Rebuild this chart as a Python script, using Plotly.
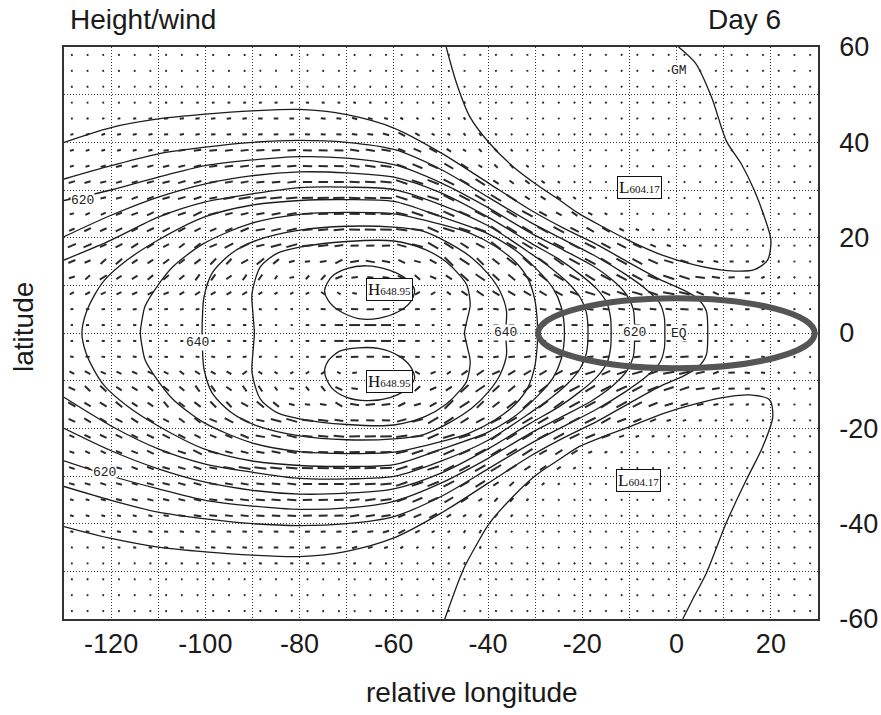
import numpy as np
import plotly.graph_objects as go

# ---------------- data ----------------
# contour paths (relative longitude, latitude); contour interval 4
C608N_LON = [-48.9, -46.7, -43.9, -39.7, -34.7, -29.5, -25, -20.8, -15.5, -10.3, -3.2, 3.8, 10.8, 16.5, 19.3, 20, 18.6, 16.5, 13.7, 10.6, 7.4, 4, 0.4]
C608N_LAT = [60, 52.4, 45.4, 39.8, 34.9, 31, 28, 25.1, 22.2, 19.5, 16.4, 14.3, 13.1, 13.3, 15.3, 19.5, 24.4, 29.9, 35.5, 40.2, 49.5, 56.6, 60]
C608S_LON = [-49.2, -45.3, -42.5, -39.7, -34.7, -29.8, -25, -20.6, -15.5, -10, -3.2, 4.2, 10.8, 15.5, 19.7, 20.4, 18.3, 14.8, 10.5, 6.3, 3.6, 1.3]
C608S_LAT = [-60, -49.7, -44.5, -39.9, -34.3, -29.8, -26.6, -23.8, -21.7, -19.7, -17, -14.8, -13.4, -13, -14, -17.6, -23.8, -30.8, -39.9, -50.4, -55.5, -60]

C612_LON = [-130, -120, -110, -100, -90, -80, -70, -60, -50, -40, -31, -24, -17, -10, -3.5, 1.5, 4.5, 6.3, 6.6, 6.3, 4.5, 1.5, -3.5, -10, -17, -24, -31, -40, -50, -60, -70, -80, -90, -100, -110, -120, -130]
C612_LAT = [40.0, 43.1, 44.9, 45.9, 46.6, 46.9, 45.8, 43.0, 37.8, 31.5, 25.8, 22.0, 18.6, 14.7, 11.2, 9.0, 7.2, 4.6, 0.0, -4.6, -7.2, -9.0, -11.2, -14.7, -18.6, -22.0, -25.8, -31.5, -37.8, -43.0, -45.8, -46.9, -46.6, -45.9, -44.9, -43.1, -40.6]

C616_LON = [-130, -120, -110, -100, -90, -80, -70, -60, -50, -40, -31, -24, -17, -11, -6.5, -3.6, -2.6, -2.5, -2.6, -3.6, -6.5, -11, -17, -24, -31, -40, -50, -60, -70, -80, -90, -100, -110, -120, -130]
C616_LAT = [32.3, 35.1, 37.6, 39.0, 40.0, 40.4, 40.0, 38.5, 34.3, 28.5, 23.2, 19.6, 16.0, 12.4, 9.2, 6.3, 3.2, 0.0, -3.2, -6.3, -9.2, -12.4, -16.0, -19.6, -23.2, -28.5, -34.3, -38.5, -40.0, -40.4, -40.0, -39.0, -37.6, -35.1, -32.2]

C620_LON = [-130, -120, -110, -100, -90, -80, -70, -60, -50, -40, -31, -24, -18, -13.5, -10.6, -9.2, -8.9, -9.2, -10.6, -13.5, -18, -24, -31, -40, -50, -60, -70, -80, -90, -100, -110, -120, -130]
C620_LAT = [27.8, 30.0, 32.7, 35.1, 36.3, 37.0, 36.7, 35.3, 31.5, 26.3, 21.0, 17.4, 14.2, 11.0, 8.0, 5.0, 0.0, -5.0, -8.0, -11.0, -14.2, -17.4, -21.0, -26.3, -31.5, -35.3, -36.7, -37.0, -36.3, -35.1, -32.7, -30.0, -26.8]

C624_LON = [-130, -120, -110, -100, -90, -80, -70, -60, -50, -40, -31, -25, -20.5, -17, -14.8, -14, -13.9, -14, -14.8, -17, -20.5, -25, -31, -40, -50, -60, -70, -80, -90, -100, -110, -120, -130]
C624_LAT = [20.2, 24.7, 28.5, 31.3, 33.0, 33.8, 33.6, 32.7, 29.4, 24.3, 18.9, 15.5, 12.3, 9.3, 6.3, 3.0, 0.0, -3.0, -6.3, -9.3, -12.3, -15.5, -18.9, -24.3, -29.4, -32.7, -33.6, -33.8, -33.0, -31.3, -28.5, -24.7, -20.0]

C628_LON = [-130, -120, -110, -100, -90, -80, -70, -60, -50, -40, -31, -26.5, -23, -20.5, -19.2, -18.8, -19.2, -20.5, -23, -26.5, -31, -40, -50, -60, -70, -80, -90, -100, -110, -120, -130]
C628_LAT = [15.3, 19.5, 24.3, 27.5, 29.2, 30.5, 30.6, 30.1, 26.9, 22.5, 16.7, 13.5, 10.5, 7.5, 4.5, 0.0, -4.5, -7.5, -10.5, -13.5, -16.7, -22.5, -26.9, -30.1, -30.6, -30.5, -29.2, -27.5, -24.3, -19.5, -13.5]

C632_LON = [-126.2, -125.4, -123.5, -121.4, -116.6, -110, -100.3, -90.3, -80, -70, -60, -50, -40, -34, -29.5, -26.3, -24.5, -23.8, -24.5, -26.3, -29.5, -34, -40, -50, -60, -70, -80, -90.3, -100.3, -110, -116.6, -121.4, -123.5, -125.4, -126.2]
C632_LAT = [0, 4, 8, 11.1, 15.3, 19.5, 24.3, 26.8, 27.8, 28.0, 27.6, 24.4, 20.8, 17.2, 13.2, 9.5, 5.5, 0, -5.5, -9.5, -13.2, -17.2, -20.8, -24.4, -27.6, -28.0, -27.8, -26.8, -24.3, -19.5, -15.3, -11.1, -8, -4, 0]

C636_LON = [-113.8, -113.4, -112.8, -110.3, -106.9, -100.3, -90.3, -80, -70, -60, -50, -44, -38.5, -34.3, -31.5, -30.1, -29.6, -29.5, -29.6, -30.1, -31.5, -34.3, -38.5, -44, -50, -60, -70, -80, -90.3, -100.3, -106.9, -110.3, -112.8, -113.4, -113.8]
C636_LAT = [0, 3, 5.6, 9.7, 13.9, 18.8, 23, 24.9, 25.3, 25, 22.8, 21, 18.2, 15, 11.3, 7, 3, 0, -3, -7, -11.3, -15, -18.2, -21, -22.8, -25, -25.3, -24.9, -23, -18.8, -13.9, -9.7, -5.6, -3, 0]

C640_LON = [-100.7, -100.6, -100.3, -98.6, -94.5, -89, -80, -70, -60, -54, -48.4, -43.5, -39.9, -37.5, -36.1, -36.3, -36.1, -37.5, -39.9, -43.5, -48.4, -54, -60, -70, -80, -89, -94.5, -98.6, -100.3, -100.6, -100.7]
C640_LAT = [0, 4, 7.5, 12.5, 16.7, 19.5, 21.6, 22.4, 22.2, 21.4, 18.9, 15.8, 12.3, 8.8, 4.6, 0, -4.6, -8.8, -12.3, -15.8, -18.9, -21.4, -22.2, -22.4, -21.6, -19.5, -16.7, -12.5, -7.5, -4, 0]

C644_LON = [-89.6, -89.9, -90.1, -88.3, -84.8, -80, -70, -60, -53.3, -49, -45.9, -44.5, -43.8, -44.4, -45, -44.4, -43.8, -44.5, -45.9, -49, -53.3, -60, -70, -80, -84.8, -88.3, -90.1, -89.9, -89.6]
C644_LAT = [0, 4, 8.3, 13.9, 16.7, 18, 19.2, 19.3, 17.5, 15, 12, 10, 6, 3, 0, -3, -6, -10, -12, -15, -17.5, -19.3, -19.2, -18, -16.7, -13.9, -8.3, -4, 0]

C648N_LON = [-74.7, -73.2, -70, -65.8, -61, -57.3, -55.6, -56.5, -59, -63, -67.5, -71.5, -73.9, -74.7]
C648N_LAT = [9, 11.8, 13.5, 14.1, 13.2, 11.3, 9, 6.5, 4.5, 3.1, 3, 4.6, 6.8, 9]
C648S_LON = [-74.7, -73.9, -71.5, -67.5, -63, -59, -56.5, -55.6, -57.3, -61, -65.8, -70, -73.2, -74.7]
C648S_LAT = [-8.3, -5.8, -3.8, -3.1, -3.3, -4.8, -7, -9.5, -11.8, -13.6, -14.2, -13.5, -11.5, -8.3]

# contour labels
LABEL_LON = [-126.0, -121.4, -101.6, -36.3, -8.9]
LABEL_LAT = [27.8, -29.2, -1.9, 0.2, 0.2]
LABEL_TEXT = ["620", "620", "640", "640", "620"]

# extrema boxes
EXT_LON = [-60.9, -60.9, -7.9, -8.1]
EXT_LAT = [9.2, -10.1, 30.6, -31.0]
EXT_KIND = ["H", "H", "L", "L"]
EXT_VALUE = ["648.95", "648.95", "604.17", "604.17"]

# reference marks
MARK_LON = [0.4, 0.4]
MARK_LAT = [0.0, 55.0]
MARK_TEXT = ["EQ", "GM"]

X_TICKS = [-120, -100, -80, -60, -40, -20, 0, 20]
X_TICK_TEXT = ["-120", "-100", "-80", "-60", "-40", "-20", "0", "20"]
Y_TICKS = [-60, -40, -20, 0, 20, 40, 60]
Y_TICK_TEXT = ["-60", "-40", "-20", "0", "20", "40", "60"]
X_GRID = [-120, -110, -100, -90, -80, -70, -60, -50, -40, -30, -20, -10, 0, 10, 20]
Y_GRID = [-50, -40, -30, -20, -10, 0, 10, 20, 30, 40, 50]

PATHS = [
    (C608N_LON, C608N_LAT), (C608S_LON, C608S_LAT),
    (C612_LON, C612_LAT), (C616_LON, C616_LAT), (C620_LON, C620_LAT),
    (C624_LON, C624_LAT), (C628_LON, C628_LAT), (C632_LON, C632_LAT),
    (C636_LON, C636_LAT), (C640_LON, C640_LAT), (C644_LON, C644_LAT),
    (C648N_LON, C648N_LAT), (C648S_LON, C648S_LAT),
]
CINT = 4.0

# ---------------- layout geometry ----------------
W, H = 881, 715
ML, MR, MT, MB = 64, 63, 47, 96
PW, PH = W - ML - MR, H - MT - MB
XR, YR = (-130, 30), (-60, 60)
PX_LON = PW / (XR[1] - XR[0])
PX_LAT = PH / (YR[1] - YR[0])

fig = go.Figure()

# contour lines
for lo, la in PATHS:
    fig.add_trace(go.Scatter(x=lo, y=la, mode="lines",
                             line=dict(color="#1c1c1c", width=1.3, shape="spline", smoothing=0.8),
                             hoverinfo="skip", showlegend=False))

# ---------------- wind dashes, oriented along the drawn height contours ----------------
step = 10.0 / 3.0
gx = np.arange(XR[0] + step / 2, XR[1], step)
gy = np.arange(YR[0] + step / 2, YR[1], step)
GX, GY = np.meshgrid(gx, gy)
qx0, qy0 = GX.ravel(), GY.ravel()
PXq, PYq = qx0 * PX_LON, qy0 * PX_LAT

dmins, tans = [], []
for lo, la in PATHS:
    lo = np.asarray(lo, float) * PX_LON
    la = np.asarray(la, float) * PX_LAT
    sx, sy, tx, ty = [], [], [], []
    for j in range(len(lo) - 1):
        dx, dy = lo[j + 1] - lo[j], la[j + 1] - la[j]
        seg = np.hypot(dx, dy)
        if seg == 0:
            continue
        n = int(np.ceil(seg / 2.0))
        t = np.arange(n) / n
        sx.append(lo[j] + t * dx); sy.append(la[j] + t * dy)
        tx.append(np.full(n, dx / seg)); ty.append(np.full(n, dy / seg))
    sx, sy, tx, ty = map(np.concatenate, (sx, sy, tx, ty))
    d = np.hypot(PXq[:, None] - sx[None, :], PYq[:, None] - sy[None, :])
    k = d.argmin(axis=1)
    dmins.append(d[np.arange(len(PXq)), k])
    tans.append(np.stack([tx[k], ty[k]], axis=1))
D = np.array(dmins)
T = np.array(tans)
order = np.argsort(D, axis=0)
idx = np.arange(D.shape[1])
d1 = D[order[0], idx]
d2 = D[order[1], idx]
tang = T[order[0], idx]
spacing_px = d1 + d2
speed = CINT / (spacing_px / ((PX_LON + PX_LAT) / 2))
alat = np.abs(qy0)
fac = np.clip(np.sin(np.radians(25)) / np.sin(np.radians(np.maximum(alat, 0.1))), 1.0, 2.5)
Lpx = np.clip(7.5 * speed * fac, 1.8, 12.0)
theta = np.arctan2(tang[:, 1], tang[:, 0])
theta = np.where(theta > np.pi / 2, theta - np.pi, theta)
theta = np.where(theta <= -np.pi / 2, theta + np.pi, theta)
w = np.clip((alat - 4.0) / 10.0, 0.0, 1.0)
Lpx = np.maximum(Lpx * (w + (1 - w) * np.maximum(np.abs(np.cos(theta)), 0.5)), 1.8)
theta = theta * w
hx = 0.5 * Lpx * np.cos(theta) / PX_LON
hy = 0.5 * Lpx * np.sin(theta) / PX_LAT
wx = np.column_stack([qx0 - hx, qx0 + hx, np.full_like(qx0, np.nan)]).ravel()
wy = np.column_stack([qy0 - hy, qy0 + hy, np.full_like(qy0, np.nan)]).ravel()
fig.add_trace(go.Scatter(x=wx, y=wy, mode="lines", connectgaps=False,
                         line=dict(color="#2a2a2a", width=2.0),
                         hoverinfo="skip", showlegend=False))

# ---------------- annotations ----------------
ann = []
for lo, la, tx_ in zip(LABEL_LON, LABEL_LAT, LABEL_TEXT):
    ann.append(dict(x=lo, y=la, xref="x", yref="y", text=tx_, showarrow=False,
                    font=dict(family="Liberation Mono", size=13, color="#222"),
                    bgcolor="white", borderpad=0))
for lo, la, tx_ in zip(MARK_LON, MARK_LAT, MARK_TEXT):
    ann.append(dict(x=lo, y=la, xref="x", yref="y", text=tx_, showarrow=False,
                    font=dict(family="Liberation Mono", size=13, color="#222"),
                    bgcolor="white", borderpad=0))
for lo, la, kd, vl in zip(EXT_LON, EXT_LAT, EXT_KIND, EXT_VALUE):
    ann.append(dict(x=lo, y=la, xref="x", yref="y",
                    text=f"{kd}<span style='font-size:11px'>{vl}</span>", showarrow=False,
                    font=dict(family="Liberation Serif", size=17, color="#111"),
                    bgcolor="white", bordercolor="#111", borderwidth=1, borderpad=1))

big = dict(family="Liberation Sans", size=28, color="#1a1a1a")
ann.append(dict(x=(68 - ML) / PW, y=1 + (MT - 20) / PH, xref="paper", yref="paper",
                text="Height/wind", showarrow=False, xanchor="left", yanchor="middle", font=big))
ann.append(dict(x=(783 - ML) / PW, y=1 + (MT - 20) / PH, xref="paper", yref="paper",
                text="Day 6", showarrow=False, xanchor="right", yanchor="middle", font=big))
ann.append(dict(x=(23 - ML) / PW, y=(MT + PH - 327) / PH, xref="paper", yref="paper",
                text="latitude", showarrow=False, textangle=-90,
                xanchor="center", yanchor="middle", font=big))
ann.append(dict(x=(472 - ML) / PW, y=(MT + PH - 692) / PH, xref="paper", yref="paper",
                text="relative longitude", showarrow=False,
                xanchor="center", yanchor="middle", font=big))

# highlighted equatorial region
shapes = [dict(type="circle", xref="x", yref="y", x0=-29.4, x1=29.3, y0=-7.4, y1=7.3,
               line=dict(color="#555555", width=6), layer="above")]

minor_grid = dict(showgrid=True, gridcolor="#333333", gridwidth=1, griddash="1px,2px", ticks="")
tickfont = dict(family="Liberation Sans", size=27, color="#1a1a1a")
fig.update_layout(
    width=W, height=H, margin=dict(l=ML, r=MR, t=MT, b=MB, autoexpand=False),
    paper_bgcolor="white", plot_bgcolor="white",
    annotations=ann, shapes=shapes, showlegend=False,
    xaxis=dict(range=list(XR), tickvals=X_TICKS, ticktext=X_TICK_TEXT,
               ticks="", ticklabelstandoff=0, zeroline=False, automargin=False,
               showgrid=False, minor=dict(tickvals=X_GRID, **minor_grid),
               showline=True, linecolor="#333", linewidth=1.5, mirror=True,
               tickfont=tickfont),
    yaxis=dict(range=list(YR), side="right", tickvals=Y_TICKS, ticktext=Y_TICK_TEXT,
               ticks="", ticklabelstandoff=14, zeroline=False, automargin=False,
               showgrid=False, minor=dict(tickvals=Y_GRID, **minor_grid),
               showline=True, linecolor="#333", linewidth=1.5, mirror=True,
               tickfont=tickfont),
)
fig.write_html("out.html")
